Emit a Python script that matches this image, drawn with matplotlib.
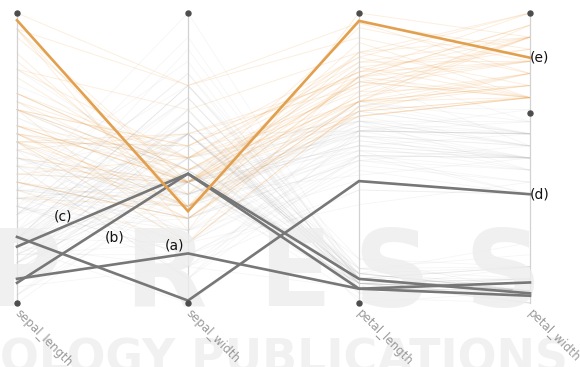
import matplotlib
matplotlib.use("Agg")
import matplotlib.pyplot as plt

dims = ["sepal_length", "sepal_width", "petal_length", "petal_width"]

# iris measurements, one entry per flower
sepal_length = [5.1, 4.9, 4.7, 4.6, 5.0, 5.4, 4.6, 5.0, 4.4, 4.9, 5.4, 4.8, 4.8, 4.3, 5.8, 5.7, 5.4, 5.1, 5.7, 5.1,
                5.4, 5.1, 4.6, 5.1, 4.8, 5.0, 5.0, 5.2, 5.2, 4.7, 4.8, 5.4, 5.2, 5.5, 4.9, 5.0, 5.5, 4.9, 4.4, 5.1,
                5.0, 4.5, 4.4, 5.0, 5.1, 4.8, 5.1, 4.6, 5.3, 5.0,
                7.0, 6.4, 6.9, 5.5, 6.5, 5.7, 6.3, 4.9, 6.6, 5.2, 5.0, 5.9, 6.0, 6.1, 5.6, 6.7, 5.6, 5.8, 6.2, 5.6,
                5.9, 6.1, 6.3, 6.1, 6.4, 6.6, 6.8, 6.7, 6.0, 5.7, 5.5, 5.5, 5.8, 6.0, 5.4, 6.0, 6.7, 6.3, 5.6, 5.5,
                5.5, 6.1, 5.8, 5.0, 5.6, 5.7, 5.7, 6.2, 5.1, 5.7,
                6.3, 5.8, 7.1, 6.3, 6.5, 7.6, 4.9, 7.3, 6.7, 7.2, 6.5, 6.4, 6.8, 5.7, 5.8, 6.4, 6.5, 7.7, 7.7, 6.0,
                6.9, 5.6, 7.7, 6.3, 6.7, 7.2, 6.2, 6.1, 6.4, 7.2, 7.4, 7.9, 6.4, 6.3, 6.1, 7.7, 6.3, 6.4, 6.0, 6.9,
                6.7, 6.9, 5.8, 6.8, 6.7, 6.7, 6.3, 6.5, 6.2, 5.9]
sepal_width = [3.5, 3.0, 3.2, 3.1, 3.6, 3.9, 3.4, 3.4, 2.9, 3.1, 3.7, 3.4, 3.0, 3.0, 4.0, 4.4, 3.9, 3.5, 3.8, 3.8,
               3.4, 3.7, 3.6, 3.3, 3.4, 3.0, 3.4, 3.5, 3.4, 3.2, 3.1, 3.4, 4.1, 4.2, 3.1, 3.2, 3.5, 3.6, 3.0, 3.4,
               3.5, 2.3, 3.2, 3.5, 3.8, 3.0, 3.8, 3.2, 3.7, 3.3,
               3.2, 3.2, 3.1, 2.3, 2.8, 2.8, 3.3, 2.4, 2.9, 2.7, 2.0, 3.0, 2.2, 2.9, 2.9, 3.1, 3.0, 2.7, 2.2, 2.5,
               3.2, 2.8, 2.5, 2.8, 2.9, 3.0, 2.8, 3.0, 2.9, 2.6, 2.4, 2.4, 2.7, 2.7, 3.0, 3.4, 3.1, 2.3, 3.0, 2.5,
               2.6, 3.0, 2.6, 2.3, 2.7, 3.0, 2.9, 2.9, 2.5, 2.8,
               3.3, 2.7, 3.0, 2.9, 3.0, 3.0, 2.5, 2.9, 2.5, 3.6, 3.2, 2.7, 3.0, 2.5, 2.8, 3.2, 3.0, 3.8, 2.6, 2.2,
               3.2, 2.8, 2.8, 2.7, 3.3, 3.2, 2.8, 3.0, 2.8, 3.0, 2.8, 3.8, 2.8, 2.8, 2.6, 3.0, 3.4, 3.1, 3.0, 3.1,
               3.1, 3.1, 2.7, 3.2, 3.3, 3.0, 2.5, 3.0, 3.4, 3.0]
petal_length = [1.4, 1.4, 1.3, 1.5, 1.4, 1.7, 1.4, 1.5, 1.4, 1.5, 1.5, 1.6, 1.4, 1.1, 1.2, 1.5, 1.3, 1.4, 1.7, 1.5,
                1.7, 1.5, 1.0, 1.7, 1.9, 1.6, 1.6, 1.5, 1.4, 1.6, 1.6, 1.5, 1.5, 1.4, 1.5, 1.2, 1.3, 1.4, 1.3, 1.5,
                1.3, 1.3, 1.3, 1.6, 1.9, 1.4, 1.6, 1.4, 1.5, 1.4,
                4.7, 4.5, 4.9, 4.0, 4.6, 4.5, 4.7, 3.3, 4.6, 3.9, 3.5, 4.2, 4.0, 4.7, 3.6, 4.4, 4.5, 4.1, 4.5, 3.9,
                4.8, 4.0, 4.9, 4.7, 4.3, 4.4, 4.8, 5.0, 4.5, 3.5, 3.8, 3.7, 3.9, 5.1, 4.5, 4.5, 4.7, 4.4, 4.1, 4.0,
                4.4, 4.6, 4.0, 3.3, 4.2, 4.2, 4.2, 4.3, 3.0, 4.1,
                6.0, 5.1, 5.9, 5.6, 5.8, 6.6, 4.5, 6.3, 5.8, 6.1, 5.1, 5.3, 5.5, 5.0, 5.1, 5.3, 5.5, 6.7, 6.9, 5.0,
                5.7, 4.9, 6.7, 4.9, 5.7, 6.0, 4.8, 4.9, 5.6, 5.8, 6.1, 6.4, 5.6, 5.1, 5.6, 6.1, 5.6, 5.5, 4.8, 5.4,
                5.6, 5.1, 5.1, 5.9, 5.7, 5.2, 5.0, 5.2, 5.4, 5.1]
petal_width = [0.2, 0.2, 0.2, 0.2, 0.2, 0.4, 0.3, 0.2, 0.2, 0.1, 0.2, 0.2, 0.1, 0.1, 0.2, 0.4, 0.4, 0.3, 0.3, 0.3,
               0.2, 0.4, 0.2, 0.5, 0.2, 0.2, 0.4, 0.2, 0.2, 0.2, 0.2, 0.4, 0.1, 0.2, 0.2, 0.2, 0.2, 0.1, 0.2, 0.2,
               0.3, 0.3, 0.2, 0.6, 0.4, 0.3, 0.2, 0.2, 0.2, 0.2,
               1.4, 1.5, 1.5, 1.3, 1.5, 1.3, 1.6, 1.0, 1.3, 1.4, 1.0, 1.5, 1.0, 1.4, 1.3, 1.4, 1.5, 1.0, 1.5, 1.1,
               1.8, 1.3, 1.5, 1.2, 1.3, 1.4, 1.4, 1.7, 1.5, 1.0, 1.1, 1.0, 1.2, 1.6, 1.5, 1.6, 1.5, 1.3, 1.3, 1.3,
               1.2, 1.4, 1.2, 1.0, 1.3, 1.2, 1.3, 1.3, 1.1, 1.3,
               2.5, 1.9, 2.1, 1.8, 2.2, 2.1, 1.7, 1.8, 1.8, 2.5, 2.0, 1.9, 2.1, 2.0, 2.4, 2.3, 1.8, 2.2, 2.3, 1.5,
               2.3, 2.0, 2.0, 1.8, 2.1, 1.8, 1.8, 1.8, 2.1, 1.6, 1.9, 2.0, 2.2, 1.5, 1.4, 2.3, 2.4, 1.8, 1.8, 2.1,
               2.4, 2.3, 1.9, 2.3, 2.5, 2.3, 1.9, 2.0, 2.3, 1.8]

# marked samples
marked_names = ["(a)", "(b)", "(c)", "(d)", "(e)"]
marked_sl = [4.60, 4.55, 5.00, 5.12, 7.81]
marked_sw = [2.41, 3.07, 3.07, 2.02, 2.76]
marked_pl = [1.29, 1.29, 1.49, 3.48, 6.74]
marked_pw = [0.27, 0.16, 0.18, 1.00, 2.13]

# brush on petal_width
brush_low = 1.67
keep_from = 1.75

W, H = 580, 367
fig = plt.figure(figsize=(W / 100, H / 100), dpi=100)

cols = [sepal_length, sepal_width, petal_length, petal_width]
lo = [min(c) for c in cols]
hi = [max(c) for c in cols]


def scale(row):
    return [(v - lo[i]) / (hi[i] - lo[i]) for i, v in enumerate(row)]


ax = fig.add_axes([17 / W, (H - 303) / H, 513 / W, 290 / H])
ax.set_xlim(0, 3)
ax.set_ylim(0, 1)
ax.axis("off")
xs = [0, 1, 2, 3]

gray_rows = []
orange_rows = []
for row in zip(*cols):
    if row[3] > keep_from:
        orange_rows.append(row)
    else:
        gray_rows.append(row)

for row in gray_rows:
    ax.plot(xs, scale(row), color="#b4b4b4", lw=0.6, alpha=0.12, zorder=1, clip_on=False)
for row in orange_rows:
    ax.plot(xs, scale(row), color="#f0a550", lw=0.7, alpha=0.18, zorder=1.2, clip_on=False)

# axis lines and end markers
for x in xs:
    ax.plot([x, x], [0, 1], color="#d2d2d2", lw=0.9, zorder=1.5, clip_on=False)
ax.plot(xs, [1, 1, 1, 1], "o", ms=3.6, color="#4d4d4d", zorder=5, clip_on=False)
ax.plot(xs[:3], [0, 0, 0], "o", ms=3.6, color="#4d4d4d", zorder=5, clip_on=False)
ax.plot([3], [(brush_low - lo[3]) / (hi[3] - lo[3])], "o", ms=3.6, color="#4d4d4d", zorder=5, clip_on=False)

# watermark
for ch, cx in zip("PRESS", [22, 165, 295, 392, 503]):
    ax.text(cx / W, 1 - 306 / H, ch, transform=fig.transFigure, ha="center", va="baseline",
            fontsize=77, fontweight="bold", color="#ededed", alpha=0.8, zorder=2)
ax.text(0 / W, 1 - 372 / H, "OLOGY PUBLICATIONS", transform=fig.transFigure, ha="left", va="baseline",
        fontsize=33, fontweight="bold", color="#f1f1f1", zorder=0.5)

# marked samples on top
marked = list(zip(marked_sl, marked_sw, marked_pl, marked_pw))
for name, row in zip(marked_names, marked):
    c = "#e2a04e" if name == "(e)" else "#777777"
    ax.plot(xs, scale(row), color=c, lw=1.9, zorder=4, solid_joinstyle="miter", clip_on=False)

label_pos = {"(c)": (63, 216), "(b)": (115, 237.5), "(a)": (175, 245.5)}
for name, (px, py) in label_pos.items():
    fig.text(px / W, 1 - py / H, name, ha="center", va="center", fontsize=10, color="#111111")
for name in ["(d)", "(e)"]:
    row = marked[marked_names.index(name)]
    ax.text(3.0, scale(row)[3], name, ha="left", va="center", fontsize=10, color="#111111",
            zorder=6, clip_on=False)

for x, d in zip(xs, dims):
    ax.annotate(d, (x, 0), xytext=(3, -3), textcoords="offset points", rotation=-45,
                rotation_mode="anchor", ha="left", va="top", fontsize=8.5, color="#9a9a9a",
                annotation_clip=False, zorder=6)

fig.savefig("out.png", dpi=100)
